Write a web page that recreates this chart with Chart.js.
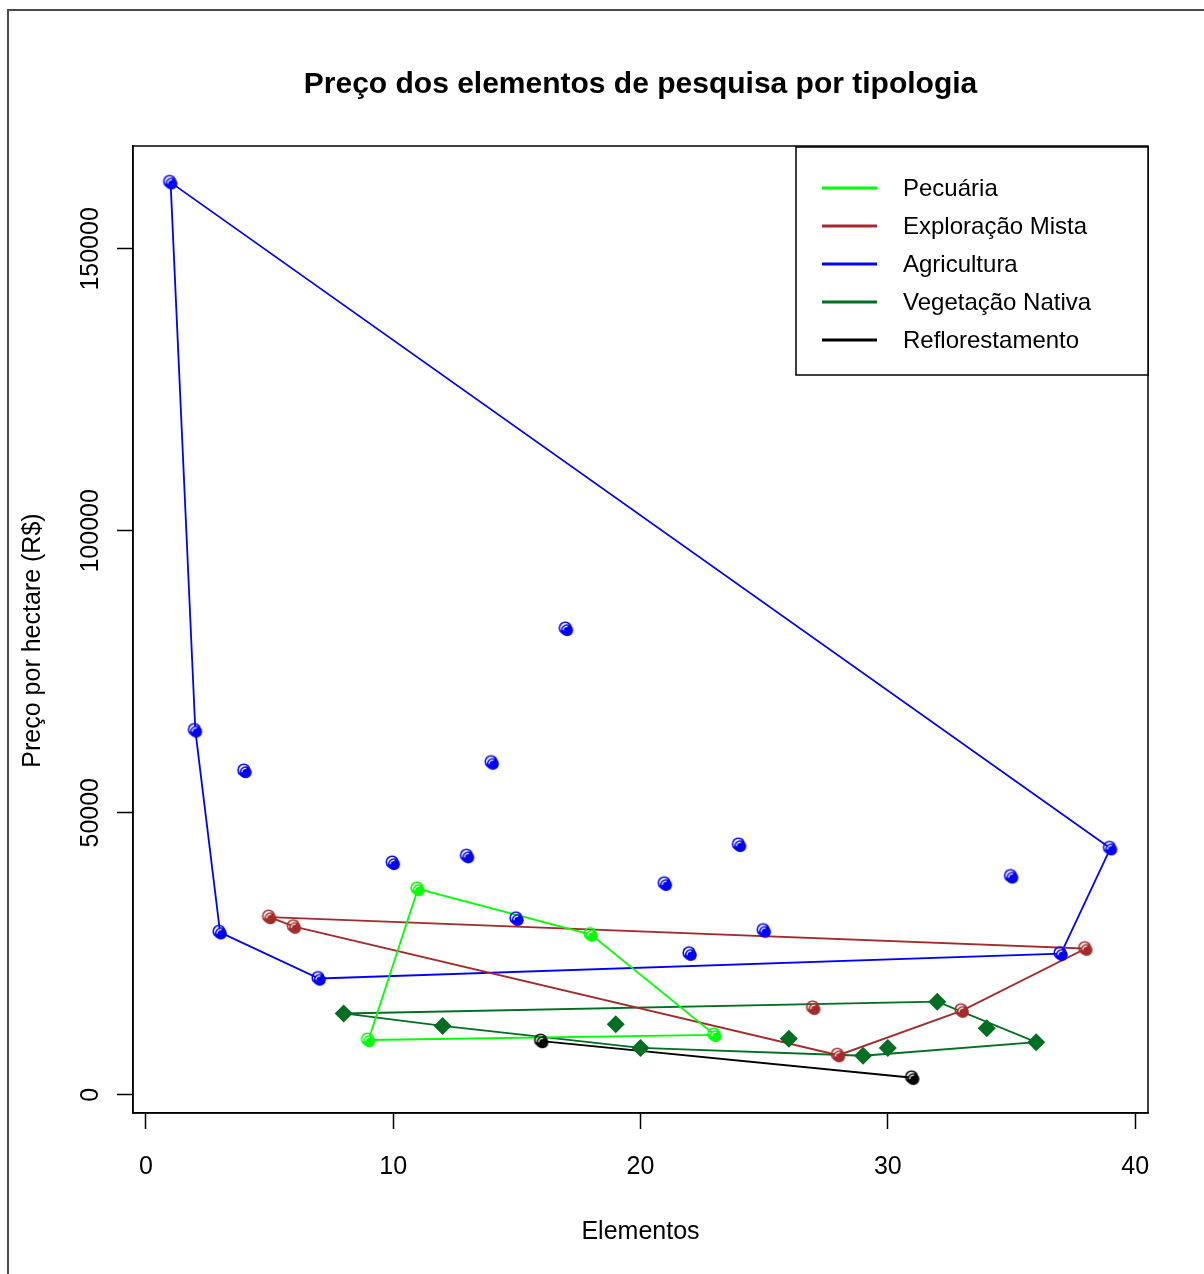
<!DOCTYPE html>
<html lang="pt">
<head>
<meta charset="UTF-8">
<title>Preço dos elementos de pesquisa por tipologia</title>
<script src="https://cdn.jsdelivr.net/npm/chart.js"></script>
<style>
    body {
        margin: 0;
        background: #ffffff;
    }
    .wrap {
        position: relative;
        width: 1204px;
        height: 1274px;
    }
</style>
</head>
<body>
<div class="wrap"><canvas id="chart"></canvas></div>
<script>
// element number (x) and price per hectare in R$ (y), one pair of arrays per typology
const pecuariaX = [9, 11, 18, 23];
const pecuariaY = [9700, 36500, 28400, 10600];

const mistaX = [5, 6, 27, 28, 33, 38];
const mistaY = [31500, 29800, 15400, 7000, 14900, 25900];

const agriculturaX = [1, 2, 3, 4, 7, 10, 13, 14, 15, 17, 21, 22, 24, 25, 35, 37, 39];
const agriculturaY = [161800, 64600, 28800, 57400, 20600, 41100, 42300, 58900, 31200,
                      82600, 37400, 25000, 44300, 29100, 38700, 25000, 43700];

const nativaX = [8, 12, 19, 20, 26, 29, 30, 32, 34, 36];
const nativaY = [14400, 12200, 12500, 8300, 9900, 6900, 8300, 16500, 11800, 9300];

const reflorestX = [16, 31];
const reflorestY = [9500, 3000];

const groupNames = ['Pecuária', 'Exploração Mista', 'Agricultura', 'Vegetação Nativa', 'Reflorestamento'];
const groupColors = ['#00ff00', '#a52a2a', '#0000ff', '#006f22', '#000000'];

const xTickLabels = [0, 10, 20, 30, 40];
const yTickLabels = [0, 50000, 100000, 150000];

const FONT = '"Liberation Sans", Arial, Helvetica, sans-serif';

// convex hull (monotone chain), returned as a closed path
function hull(xs, ys) {
    const pts = xs.map((x, i) => ({ x: x, y: ys[i] }))
        .sort((a, b) => a.x - b.x || a.y - b.y);
    if (pts.length < 3) return pts.concat([pts[0]]);
    const cross = (o, a, b) => (a.x - o.x) * (b.y - o.y) - (a.y - o.y) * (b.x - o.x);
    const lower = [], upper = [];
    for (const p of pts) {
        while (lower.length >= 2 && cross(lower[lower.length - 2], lower[lower.length - 1], p) <= 0) lower.pop();
        lower.push(p);
    }
    for (const p of pts.slice().reverse()) {
        while (upper.length >= 2 && cross(upper[upper.length - 2], upper[upper.length - 1], p) <= 0) upper.pop();
        upper.push(p);
    }
    lower.pop();
    upper.pop();
    const h = lower.concat(upper);
    h.push(h[0]);
    return h;
}

// shaded "ball" marker: ring offset up-left, filled disc offset down-right
function ballMarker(color) {
    const c = document.createElement('canvas');
    c.width = 20;
    c.height = 20;
    const g = c.getContext('2d');
    g.strokeStyle = color;
    g.lineWidth = 1.6;
    g.beginPath();
    g.arc(9, 9, 5.8, 0, Math.PI * 2);
    g.stroke();
    g.fillStyle = color;
    g.beginPath();
    g.arc(10.8, 11.2, 6, 0, Math.PI * 2);
    g.fill();
    g.strokeStyle = '#ffffff';
    g.lineWidth = 1.3;
    g.beginPath();
    g.arc(10.8, 11.2, 3.8, Math.PI * 1.0, Math.PI * 1.55);
    g.stroke();
    return c;
}

const groups = [
    { xs: pecuariaX, ys: pecuariaY, marker: 'ball' },
    { xs: mistaX, ys: mistaY, marker: 'ball' },
    { xs: agriculturaX, ys: agriculturaY, marker: 'ball' },
    { xs: nativaX, ys: nativaY, marker: 'diamond' },
    { xs: reflorestX, ys: reflorestY, marker: 'ball' }
];

const datasets = [];
groups.forEach((g, i) => {
    const color = groupColors[i];
    datasets.push({
        label: groupNames[i] + ' (envoltória)',
        data: hull(g.xs, g.ys),
        showLine: true,
        borderColor: color,
        borderWidth: 1.8,
        pointRadius: 0,
        tension: 0,
        fill: false,
        order: 2
    });
    const pts = g.xs.map((x, k) => ({ x: x, y: g.ys[k] }));
    if (g.marker === 'diamond') {
        datasets.push({
            label: groupNames[i],
            data: pts,
            showLine: false,
            pointStyle: 'rectRot',
            pointRadius: 9,
            backgroundColor: color,
            borderColor: color,
            borderWidth: 0,
            order: 1
        });
    } else {
        datasets.push({
            label: groupNames[i],
            data: pts,
            showLine: false,
            pointStyle: ballMarker(color),
            pointRadius: 10,
            order: 1
        });
    }
});

// title, axis labels, plot box, outer frame and legend box
const decorPlugin = {
    id: 'decor',
    beforeDraw(chart) {
        const ctx = chart.ctx;
        ctx.save();
        ctx.fillStyle = '#ffffff';
        ctx.fillRect(0, 0, chart.width, chart.height);
        ctx.restore();
    },
    afterDraw(chart) {
        const ctx = chart.ctx;
        const a = chart.chartArea;
        const xs = chart.scales.x;
        const ys = chart.scales.y;
        const cx = (a.left + a.right) / 2;
        const cy = (a.top + a.bottom) / 2;
        ctx.save();

        // outer frame
        ctx.strokeStyle = '#4a4a4a';
        ctx.lineWidth = 2;
        ctx.beginPath();
        ctx.moveTo(8, chart.height);
        ctx.lineTo(8, 10);
        ctx.lineTo(chart.width, 10);
        ctx.stroke();

        // plot box
        ctx.strokeStyle = '#000000';
        ctx.lineWidth = 1.5;
        ctx.strokeRect(a.left, a.top, a.right - a.left, a.bottom - a.top);

        ctx.fillStyle = '#000000';
        ctx.textAlign = 'center';
        ctx.textBaseline = 'middle';

        // tick labels
        ctx.font = '25px ' + FONT;
        xTickLabels.forEach(v => ctx.fillText(String(v), xs.getPixelForValue(v), a.bottom + 54));
        yTickLabels.forEach(v => {
            ctx.save();
            ctx.translate(a.left - 42, ys.getPixelForValue(v));
            ctx.rotate(-Math.PI / 2);
            ctx.fillText(String(v), 0, 0);
            ctx.restore();
        });

        // axis titles
        ctx.fillText('Elementos', cx, a.bottom + 119);
        ctx.save();
        ctx.translate(33, cy + 11);
        ctx.rotate(-Math.PI / 2);
        ctx.fillText('Preço por hectare (R$)', 0, 0);
        ctx.restore();

        // main title
        ctx.font = 'bold 30px ' + FONT;
        ctx.fillText('Preço dos elementos de pesquisa por tipologia', cx, 85);

        // legend
        const lw = 352, lh = 228;
        const lx = a.right - lw, ly = a.top + 1;
        ctx.fillStyle = '#ffffff';
        ctx.fillRect(lx, ly, lw, lh);
        ctx.strokeStyle = '#000000';
        ctx.lineWidth = 1.5;
        ctx.strokeRect(lx, ly, lw, lh);
        ctx.font = '24px ' + FONT;
        ctx.textAlign = 'left';
        groupNames.forEach((name, i) => {
            const rowY = ly + 41 + i * 38;
            ctx.strokeStyle = groupColors[i];
            ctx.lineWidth = 3;
            ctx.beginPath();
            ctx.moveTo(lx + 26, rowY);
            ctx.lineTo(lx + 81, rowY);
            ctx.stroke();
            ctx.fillStyle = '#000000';
            ctx.fillText(name, lx + 107, rowY + 1);
        });
        ctx.restore();
    }
};

const axisCommon = {
    type: 'linear',
    border: { display: true, color: '#000000', width: 1.5 },
    grid: {
        drawOnChartArea: false,
        drawTicks: true,
        tickLength: 16,
        tickColor: '#000000',
        tickWidth: 1.5
    },
    ticks: { display: false }
};

new Chart(document.getElementById('chart'), {
    type: 'scatter',
    data: { datasets: datasets },
    options: {
        responsive: true,
        maintainAspectRatio: false,
        animation: false,
        events: [],
        layout: { padding: { top: 146, right: 56, left: 0, bottom: 0 } },
        plugins: {
            legend: { display: false },
            title: { display: false },
            tooltip: { enabled: false }
        },
        scales: {
            x: Object.assign({}, axisCommon, {
                position: 'bottom',
                min: -0.52,
                max: 40.52,
                afterBuildTicks: s => { s.ticks = xTickLabels.map(v => ({ value: v })); },
                afterFit: s => { s.height = 161; }
            }),
            y: Object.assign({}, axisCommon, {
                position: 'left',
                min: -3250,
                max: 168250,
                afterBuildTicks: s => { s.ticks = yTickLabels.map(v => ({ value: v })); },
                afterFit: s => { s.width = 133; }
            })
        }
    },
    plugins: [decorPlugin]
});
</script>
</body>
</html>
